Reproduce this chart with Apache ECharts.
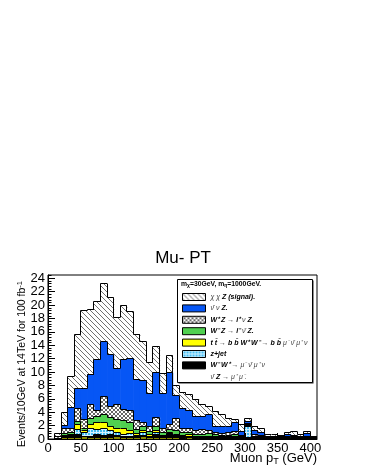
<!DOCTYPE html>
<html><head><meta charset="utf-8">
<script src="https://cdn.jsdelivr.net/npm/echarts@6/dist/echarts.min.js"></script>
<style>html,body{margin:0;padding:0;background:#fff;} #c{width:366px;height:473px;}</style>
</head><body><div id="c"></div>
<script>
// ---- data ----
const binLow = [0,10,20,30,40,50,60,70,80,90,100,110,120,130,140,150,160,170,180,190,200,210,220,230,240,250,260,270,280,290,300,310,320,330,340,350,360,370,380,390,400];
const binWidth = 10;
const binEnd = 410;
const xMajorTicks = [0,50,100,150,200,250,300,350,400];
const yMajorTicks = [0,2,4,6,8,10,12,14,16,18,20,22,24];

const vZmumu = [0,0,0.15,0.2,0.25,0.3,0.2,0.25,0.2,0.2, 0.3,0.2,0.25,0.15,0.3,0.2,0.2,0.15,0.2,0.15, 0.1,0.2,0.1,0.1,0.1,0.1,0.1,0.1,0.1,0.05, 0.1,0.05,0.05,0.05,0.05,0.05,0.05,0.05,0.05,0.05, 0.05];
const vWW    = [0,0,0.05,0.1,0.35,0.05,0.2,0.35,0.3,0.5, 0.2,0.15,0.15,0.15,0.2,0.05,0.4,0.05,0.4,0.15, 0.1,0.1,0.1,0.1,0.05,0.05,0.05,0.05,0.05,0.05, 0.1,0.05,0.05,0,0,0,0,0,0,0.05, 0];
const vZjet  = [0,0,0.1,0.15,0.85,0.55,1.2,0.8,1.0,0.5, 0.4,0.35,0.4,0.2,0.4,0.15,0.3,0.15,0.2,0.15, 0.1,0.1,0.1,0.1,0.15,0.05,0.05,0.05,0.15,0.05, 1.7,0.1,0.05,0.05,0.05,0,0.05,0.05,0,0.05, 0];
const vTT    = [0,0,0.2,0.25,0.75,0.3,0.6,1.1,0.9,0.6, 0.7,0.9,0.5,0.3,0.4,0.2,0.3,0.15,0.2,0.15, 0.15,0.2,0.1,0.1,0.1,0.1,0.1,0.1,0.1,0.05, 0.1,0.1,0.05,0,0,0.05,0,0,0.05,0.05, 0];
const vWmZ   = [0,0.1,0.3,0.3,0.4,0.3,0.8,0.9,1.2,1.4, 1.3,1.2,1.1,0.6,0.6,0.5,0.7,0.5,0.4,0.6, 0.45,0.4,0.3,0.3,0.4,0.3,0.2,0.2,0.3,0.1, 0.1,0.1,0.1,0.1,0.05,0.05,0.05,0.05,0,0.05, 0.05];
const vWpZ   = [0,0.2,0.7,0.6,1.9,1.4,2.1,0.8,2.8,1.7, 2.3,1.6,1.8,1.3,0.5,0.7,1.3,0.5,0.8,1.8, 0.6,0.6,0.5,0.7,0.5,0.3,0.3,0.4,0.4,0.2, 0.2,0.3,0.2,0.1,0.1,0.05,0.15,0.15,0.1,0.15, 0.05];
const vNNZ   = [0,0.05,0.5,3.1,3.0,4.7,4.6,7.7,8.1,7.7, 5.4,7.5,7.9,6.2,6.4,5.0,6.7,5.3,7.7,3.5, 3.1,2.7,2.2,2.0,2.3,1.0,1.1,1.0,1.3,0.6, 0.3,0.5,0.4,0.1,0.15,0.15,0.4,0.2,0.2,0.4, 0.15];
const vSignal= [0,0.45,1.9,4.7,8.1,11.6,9.6,8.6,8.8,8.5, 7.6,8.0,7.0,6.7,5.7,4.6,3.9,3.0,2.5,1.5, 2.3,2.3,2.5,1.8,1.2,2.2,1.7,1.2,0.45,1.0, 0.4,0.6,0.7,0.2,0.2,0.15,0.2,0.6,0.3,0.3, 0.05];

const N1 = 'χ χ Z (signal).';
const N2 = 'ν̄ ν Z.';
const N3 = 'W⁺ Z → l⁺ ν Z.';
const N4 = 'W⁻ Z → l⁻ ν̄ Z.';
const N5 = 't t̄ → b b̄ W⁺ W⁻ → b b̄ μ⁻ ν̄ μ⁺ ν';
const N6 = 'z+jet';
const N7 = 'W⁻ W⁺ → μ⁻ ν̄ μ⁺ ν';
const N8 = 'ν̄ Z → μ⁺ μ⁻.';

const legendRich = {};
legendRich[N1] = '{g|χ χ} {b|Z (signal).}';
legendRich[N2] = '{g|ν̄ ν} {b|Z.}';
legendRich[N3] = '{b|W⁺ Z} {g|→} {b|l⁺} {g|ν} {b|Z.}';
legendRich[N4] = '{b|W⁻ Z} {g|→} {b|l⁻} {g|ν̄} {b|Z.}';
legendRich[N5] = '{b|t t̄} {g|→} {b|b b̄ W⁺ W⁻} {g|→} {b|b b̄} {g|μ⁻ ν̄ μ⁺ ν}';
legendRich[N6] = '{b|z+jet}';
legendRich[N7] = '{b|W⁻ W⁺} {g|→ μ⁻ ν̄ μ⁺ ν}';
legendRich[N8] = '{g|ν̄} {b|Z} {g|→ μ⁺ μ⁻.}';

// ---- patterns ----
function makePattern(w, h, draw) {
  const c = document.createElement('canvas');
  c.width = w; c.height = h;
  const ctx = c.getContext('2d');
  draw(ctx);
  return { image: c, repeat: 'repeat' };
}
const pHatch = makePattern(5, 5, ctx => {
  ctx.fillStyle = '#ffffff'; ctx.fillRect(0, 0, 5, 5);
  ctx.fillStyle = '#707070';
  for (let i = 0; i < 5; i++) ctx.fillRect(i, i, 1, 1);
});
const pCheck = makePattern(4, 4, ctx => {
  ctx.fillStyle = '#ffffff'; ctx.fillRect(0, 0, 4, 4);
  ctx.fillStyle = '#666666';
  for (let i = 0; i < 4; i++) { ctx.fillRect(i, i, 1, 1); ctx.fillRect(3 - i, i, 1, 1); }
});
const pCyan = makePattern(3, 3, ctx => {
  ctx.fillStyle = '#45bdf2'; ctx.fillRect(0, 0, 3, 3);
  ctx.fillStyle = '#d2f1ff';
  ctx.fillRect(0, 0, 3, 1); ctx.fillRect(0, 0, 1, 3);
});

const xMinorTicks = [];
for (let v = 10; v < binEnd; v += 10) if (v % 50) xMinorTicks.push(v);
const yMinorTicks = [];
for (let k = 1; k <= 61; k++) if (k % 5) yMinorTicks.push(Math.round(k * 4) / 10);

// layers, bottom first
const defs = [
  { name: N8, vals: vZmumu, fill: '#8a8a00' },
  { name: N7, vals: vWW, fill: '#000000' },
  { name: N6, vals: vZjet, fill: pCyan },
  { name: N5, vals: vTT, fill: '#ffff00' },
  { name: N4, vals: vWmZ, fill: '#50d050' },
  { name: N3, vals: vWpZ, fill: pCheck },
  { name: N2, vals: vNNZ, fill: '#0656f5' },
  { name: N1, vals: vSignal, fill: pHatch }
];

// stacked table: [xLow, xHigh, base, top, prevTop]
const runningBase = binLow.map(() => 0);
const layerRows = defs.map(d => {
  const rows = binLow.map((x, i) => {
    const base = runningBase[i];
    const top = base + d.vals[i];
    return [x, x + binWidth, base, top, 0];
  });
  rows.forEach((r, i) => { r[4] = i > 0 ? rows[i - 1][3] : 0; });
  binLow.forEach((x, i) => { runningBase[i] += d.vals[i]; });
  return rows;
});

const FONT = 'Liberation Sans, Arial, Helvetica, sans-serif';
const snap = v => Math.round(v - 0.5) + 0.5;

function makeRender(fill) {
  return function (params, api) {
    const x0 = api.value(0), x1 = api.value(1), b = api.value(2), t = api.value(3), pt = api.value(4);
    const pB = api.coord([x0, b]);
    const pT = api.coord([x1, t]);
    const pP = api.coord([x0, pt]);
    const extra = x1 < binEnd ? 0.6 : 0;
    const children = [];
    if (pB[1] - pT[1] > 0.01) {
      children.push({ type: 'rect', z2: 0,
        shape: { x: pB[0], y: pT[1], width: pT[0] - pB[0] + extra, height: pB[1] - pT[1] },
        style: { fill: fill } });
    }
    const xl = snap(pB[0]), xr = pT[0], yt = snap(pT[1]), yp = snap(pP[1]);
    children.push({ type: 'polyline', z2: 1,
      shape: { points: [[xl, yp], [xl, yt], [xr, yt]] },
      style: { stroke: '#000', lineWidth: 1, fill: null } });
    return { type: 'group', children: children };
  };
}

const series = defs.map((d, idx) => ({
  type: 'custom', name: d.name, silent: true, animation: false,
  renderItem: makeRender(d.fill),
  encode: { x: [0, 1], y: [2, 3] },
  data: layerRows[idx],
  itemStyle: { color: typeof d.fill === 'string' ? d.fill : '#999' },
  z: 10 - idx
}));

const legendData = [N1, N2, N3, N4, N5, N6, N7].map(n => {
  const d = defs.find(e => e.name === n);
  return { name: n, itemStyle: { color: d.fill, borderColor: '#000', borderWidth: 1 } };
});
legendData.push({ name: N8, itemStyle: { color: 'rgba(0,0,0,0)', borderColor: 'rgba(0,0,0,0)', borderWidth: 0 } });

const chart = echarts.init(document.getElementById('c'), null, { renderer: 'canvas' });
chart.setOption({
  animation: false,
  backgroundColor: '#fff',
  title: { text: 'Mu- PT', left: 'center', top: 245,
    textStyle: { fontSize: 17, fontWeight: 'normal', color: '#000', fontFamily: FONT } },
  grid: { left: 48, top: 275, width: 269, height: 164, show: true, borderColor: '#000', borderWidth: 1, backgroundColor: 'transparent' },
  xAxis: [
    { type: 'value', min: 0, max: binEnd, z: 20,
      axisLine: { show: true, lineStyle: { color: '#000', width: 1 } },
      axisTick: { show: true, inside: true, length: 6, customValues: xMajorTicks, lineStyle: { color: '#000' } },
      axisLabel: { customValues: xMajorTicks, fontSize: 13, color: '#000', margin: 3, fontFamily: FONT },
      splitLine: { show: false }, minorTick: { show: false } },
    { type: 'value', min: 0, max: binEnd, position: 'bottom', z: 20,
      axisLine: { show: false },
      axisTick: { show: true, inside: true, length: 3, customValues: xMinorTicks, lineStyle: { color: '#000' } },
      axisLabel: { show: false }, splitLine: { show: false } }
  ],
  yAxis: [
    { type: 'value', min: 0, max: 24.5, z: 20,
      axisLine: { show: true, lineStyle: { color: '#000', width: 1 } },
      axisTick: { show: true, inside: true, length: 7, customValues: yMajorTicks, lineStyle: { color: '#000' } },
      axisLabel: { customValues: yMajorTicks, fontSize: 13, color: '#000', margin: 3, fontFamily: FONT },
      splitLine: { show: false }, minorTick: { show: false } },
    { type: 'value', min: 0, max: 24.5, position: 'left', z: 20,
      axisLine: { show: false },
      axisTick: { show: true, inside: true, length: 3.5, customValues: yMinorTicks, lineStyle: { color: '#000' } },
      axisLabel: { show: false }, splitLine: { show: false } }
  ],
  legend: {
    orient: 'vertical', left: 182, top: 293, padding: 0,
    itemWidth: 23, itemHeight: 7, itemGap: 3.4, icon: 'rect',
    selectedMode: false, z: 60,
    formatter: n => legendRich[n],
    textStyle: { fontSize: 7, lineHeight: 8, color: '#000', fontFamily: FONT,
      rich: {
        b: { fontSize: 7, lineHeight: 8, fontWeight: 'bold', fontStyle: 'italic', color: '#000', fontFamily: FONT },
        g: { fontSize: 7, lineHeight: 8, fontStyle: 'italic', color: '#444', fontFamily: FONT }
      } },
    data: legendData
  },
  graphic: [
    { type: 'rect', z: 50, shape: { x: 178.5, y: 280.5, width: 135, height: 103 }, style: { fill: '#222' } },
    { type: 'rect', z: 51, shape: { x: 177.5, y: 279.5, width: 135, height: 103 }, style: { fill: '#fff', stroke: '#000', lineWidth: 1 } },
    { type: 'text', z: 61, x: 181, y: 284,
      style: { text: '{b|m}{s|χ}{b|=30GeV, m}{s|η}{b|=1000GeV.}', verticalAlign: 'middle', align: 'left',
        rich: { b: { fontSize: 6.8, fontWeight: 'bold', fontFamily: FONT, fill: '#000', lineHeight: 9 },
                s: { fontSize: 5, fontWeight: 'bold', fontFamily: FONT, fill: '#000', lineHeight: 9, verticalAlign: 'bottom' } } } },
    { type: 'text', z: 30, x: 317, y: 458,
      style: { text: '{a|Muon p}{s|T}{a| (GeV)}', align: 'right', verticalAlign: 'middle',
        rich: { a: { fontSize: 13, fontFamily: FONT, fill: '#000', lineHeight: 16 },
                s: { fontSize: 9, fontFamily: FONT, fill: '#000', lineHeight: 16, verticalAlign: 'bottom' } } } },
    { type: 'text', z: 30, x: 22, y: 281, rotation: Math.PI / 2,
      style: { text: '{a|Events/10GeV at 14TeV for 100 fb}{s|-1}', align: 'right', verticalAlign: 'middle',
        rich: { a: { fontSize: 10.5, fontFamily: FONT, fill: '#000', lineHeight: 13 },
                s: { fontSize: 7.5, fontFamily: FONT, fill: '#000', lineHeight: 13, verticalAlign: 'top' } } } }
  ],
  series: series
});
</script></body></html>
